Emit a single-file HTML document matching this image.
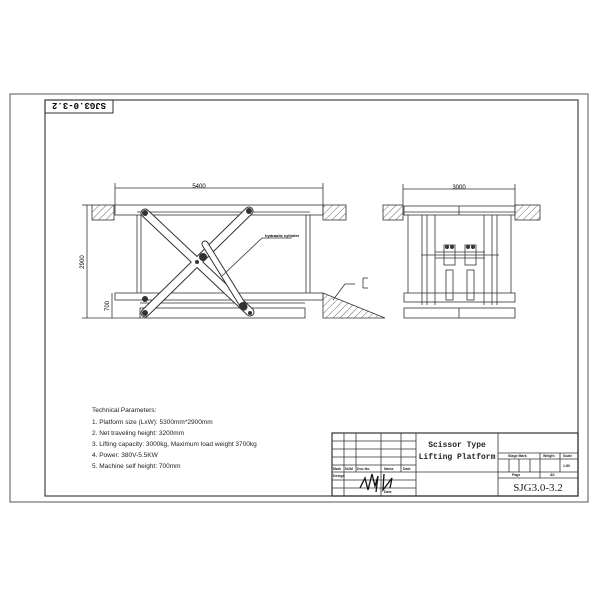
<!DOCTYPE html>
<html><head><style>body{margin:0;background:#fff}svg{display:block}</style></head><body>
<svg width="600" height="600" viewBox="0 0 600 600" xmlns="http://www.w3.org/2000/svg" font-family="Liberation Sans, sans-serif">
<defs>
<pattern id="h" width="5" height="5" patternUnits="userSpaceOnUse" patternTransform="rotate(45)"><line x1="0" y1="0" x2="0" y2="5" stroke="#444" stroke-width="0.8"/></pattern>
</defs>
<rect width="600" height="600" fill="#fff"/>
<rect x="10" y="94" width="578" height="408" fill="none" stroke="#555" stroke-width="1"/>
<rect x="45" y="100" width="533" height="396" fill="none" stroke="#444" stroke-width="1.2"/>
<rect x="45" y="100" width="68" height="13" fill="none" stroke="#333"/>
<text x="79" y="110" font-size="9" font-weight="bold" text-anchor="middle" transform="rotate(180 79 106.5)" font-family="Liberation Mono, monospace">SJG3.0-3.2</text>
<g stroke="#333" fill="none" stroke-width="0.8">
<line x1="115" y1="188" x2="323" y2="188"/><line x1="115" y1="183" x2="115" y2="205"/><line x1="323" y1="183" x2="323" y2="205"/>
<rect x="92" y="205" width="22" height="15" fill="url(#h)"/>
<rect x="323" y="205" width="23" height="15" fill="url(#h)"/>
<rect x="115" y="205" width="208" height="10"/>
<line x1="137" y1="212" x2="310" y2="212"/>
<line x1="137" y1="215" x2="137" y2="293"/><line x1="310" y1="215" x2="310" y2="293"/>
<line x1="141" y1="215" x2="141" y2="293"/><line x1="306" y1="215" x2="306" y2="293"/>
<rect x="115" y="293" width="208" height="7"/>
<line x1="140" y1="303" x2="305" y2="303"/>
<rect x="140" y="308" width="165" height="10"/>
<line x1="87" y1="205" x2="87" y2="318"/>
<line x1="82" y1="205" x2="92" y2="205"/><line x1="82" y1="318" x2="140" y2="318"/>
<line x1="112" y1="293" x2="112" y2="318"/>
<polygon points="323,293 385,318 323,318" fill="url(#h)"/>
<line x1="363" y1="278" x2="368" y2="278"/><line x1="363" y1="278" x2="363" y2="288"/><line x1="363" y1="288" x2="368" y2="288"/>
<line x1="345" y1="284" x2="355" y2="284"/><line x1="345" y1="284" x2="333" y2="300"/>
</g>
<g stroke-linecap="round">
<line x1="145" y1="213" x2="250" y2="312" stroke="#333" stroke-width="9"/>
<line x1="145" y1="313" x2="249" y2="211" stroke="#333" stroke-width="9"/>
<line x1="145" y1="213" x2="250" y2="312" stroke="#fff" stroke-width="7"/>
<line x1="145" y1="313" x2="249" y2="211" stroke="#fff" stroke-width="7"/>
<line x1="205" y1="244" x2="244" y2="307" stroke="#333" stroke-width="7"/>
<line x1="205" y1="244" x2="244" y2="307" stroke="#fff" stroke-width="5"/>
</g>
<g stroke="#333" stroke-width="0.8" fill="none">
<line x1="222" y1="276" x2="262" y2="238"/><line x1="262" y1="238" x2="292" y2="238"/>
</g>
<g fill="#333"><circle cx="145" cy="213" r="3"/><circle cx="249" cy="211" r="3"/><circle cx="203" cy="257" r="4"/><circle cx="197" cy="262" r="2"/><circle cx="145" cy="299" r="3"/><circle cx="145" cy="313" r="3"/><circle cx="243" cy="306" r="4"/><circle cx="250" cy="313" r="2"/></g>
<text x="199" y="188" font-size="6" text-anchor="middle">5400</text>
<text x="84" y="262" font-size="6" text-anchor="middle" transform="rotate(-90 84 262)">2900</text>
<text x="109" y="306" font-size="6" text-anchor="middle" transform="rotate(-90 109 306)">700</text>
<text x="265" y="237" font-size="4" font-weight="bold">hydraulic cylinder</text>
<g stroke="#333" fill="none" stroke-width="0.8">
<line x1="403" y1="189" x2="515" y2="189"/><line x1="403" y1="184" x2="403" y2="205"/><line x1="515" y1="184" x2="515" y2="205"/>
<rect x="383" y="205" width="20" height="15" fill="url(#h)"/>
<rect x="515" y="205" width="25" height="15" fill="url(#h)"/>
<rect x="404" y="206" width="111" height="9"/><line x1="459" y1="206" x2="459" y2="215"/>
<line x1="404" y1="212" x2="515" y2="212"/>
<line x1="408" y1="215" x2="408" y2="293"/><line x1="511" y1="215" x2="511" y2="293"/>
<line x1="422" y1="215" x2="422" y2="305"/><line x1="427" y1="215" x2="427" y2="305"/><line x1="435" y1="215" x2="435" y2="305"/>
<line x1="484" y1="215" x2="484" y2="305"/><line x1="492" y1="215" x2="492" y2="305"/><line x1="497" y1="215" x2="497" y2="305"/>
<line x1="421" y1="255" x2="499" y2="255"/><line x1="435" y1="252" x2="485" y2="252"/><line x1="435" y1="258" x2="485" y2="258"/>
<rect x="444" y="245" width="11" height="20"/><rect x="465" y="245" width="11" height="20"/>
<rect x="446" y="270" width="7" height="30"/><rect x="467" y="270" width="7" height="30"/>
<rect x="404" y="293" width="111" height="9"/>
<rect x="404" y="308" width="111" height="10"/><line x1="459" y1="308" x2="459" y2="318"/>
</g>
<g fill="#333"><circle cx="447" cy="247" r="2"/><circle cx="452" cy="247" r="2"/><circle cx="468" cy="247" r="2"/><circle cx="473" cy="247" r="2"/></g>
<text x="459" y="189" font-size="6" text-anchor="middle">3000</text>
<g font-size="6.5" fill="#222">
<text x="92" y="412">Technical Parameters:</text>
<text x="92" y="424">1. Platform size (LxW): 5300mm*2900mm</text>
<text x="92" y="435">2. Net traveling height: 3200mm</text>
<text x="92" y="446">3. Lifting capacity: 3000kg, Maximum load weight 3700kg</text>
<text x="92" y="457">4. Power: 380V-5.5KW</text>
<text x="92" y="468">5. Machine self height: 700mm</text>
</g>
<g stroke="#333" fill="none" stroke-width="0.8">
<rect x="332" y="433" width="246" height="63" stroke-width="1.2"/>
<line x1="416" y1="433" x2="416" y2="496"/><line x1="498" y1="433" x2="498" y2="496"/>
<line x1="416" y1="472" x2="498" y2="472"/>
<line x1="332" y1="441" x2="416" y2="441"/><line x1="332" y1="449" x2="416" y2="449"/><line x1="332" y1="457" x2="416" y2="457"/>
<line x1="332" y1="465" x2="416" y2="465"/><line x1="332" y1="472" x2="416" y2="472"/><line x1="332" y1="480" x2="416" y2="480"/><line x1="332" y1="488" x2="416" y2="488"/>
<line x1="344" y1="433" x2="344" y2="496"/><line x1="356" y1="433" x2="356" y2="472"/><line x1="381" y1="433" x2="381" y2="496"/><line x1="401" y1="433" x2="401" y2="472"/>
<line x1="498" y1="453" x2="578" y2="453"/><line x1="498" y1="459" x2="578" y2="459"/><line x1="498" y1="472" x2="578" y2="472"/><line x1="498" y1="478" x2="578" y2="478"/>
<line x1="540" y1="453" x2="540" y2="478"/><line x1="560" y1="453" x2="560" y2="472"/>
<line x1="509" y1="459" x2="509" y2="472"/><line x1="519" y1="459" x2="519" y2="472"/><line x1="530" y1="459" x2="530" y2="472"/>
</g>
<g font-size="3.5" font-weight="bold" fill="#222">
<text x="333" y="470">Mark</text><text x="345" y="470">NUM</text><text x="357" y="470">Doc.No.</text><text x="384" y="470">Name</text><text x="403" y="470">Date</text>
<text x="333" y="477">Design</text><text x="384" y="493">Date</text>
<text x="508" y="457">Stage Mark</text><text x="543" y="457">Weight</text><text x="563" y="457">Scale</text>
<text x="563" y="467">1:80</text><text x="512" y="476">Page</text><text x="550" y="476">All</text>
</g>
<path d="M360 488 L365 478 L368 490 L372 474 L375 486 L378 476 L376 492 M384 474 L383 490 L392 478 L390 488" stroke="#111" stroke-width="1.3" fill="none"/>
<g font-family="Liberation Mono, monospace" font-weight="bold" fill="#222">
<text x="457" y="447" font-size="8" text-anchor="middle">Scissor Type</text>
<text x="457" y="459" font-size="8" text-anchor="middle">Lifting Platform</text>
<text x="538" y="491" font-size="11" text-anchor="middle" font-weight="normal" font-family="Liberation Serif, serif">SJG3.0-3.2</text>
</g>
</svg>
</body></html>
